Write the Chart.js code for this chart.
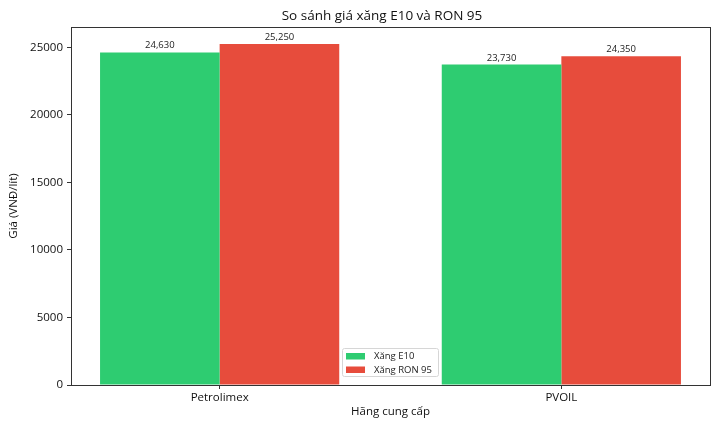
<!DOCTYPE html>
<html>
<head>
<meta charset="utf-8">
<script src="https://cdn.jsdelivr.net/npm/chart.js@4.4.1/dist/chart.umd.min.js"></script>
<style>
  html, body { margin: 0; padding: 0; background: #fff; }
  #wrap { width: 720px; height: 432px; }
</style>
</head>
<body>
<div id="wrap"><canvas id="c" width="720" height="432"></canvas></div>
<script>
const categories = ['Petrolimex', 'PVOIL'];
const e10Values = [24630, 23730];
const ron95Values = [25250, 24350];
const seriesNames = ['Xăng E10', 'Xăng RON 95'];
const yTickValues = [0, 5000, 10000, 15000, 20000, 25000];
const chartTitle = 'So sánh giá xăng E10 và RON 95';
const xAxisTitle = 'Hãng cung cấp';
const yAxisTitle = 'Giá (VNĐ/lít)';

const FONT = '"Open Sans", Lato, sans-serif';
const GREEN = '#2ecc71';
const RED = '#e74c3c';
const TEXT = '#111';

const toPoints = vals => vals.map((v, i) => ({ x: i, y: v }));

const decor = {
  id: 'decor',
  afterDatasetsDraw(chart) {
    const ctx = chart.ctx;
    const a = chart.chartArea;
    ctx.save();
    // data labels
    ctx.font = '9.5px ' + FONT;
    ctx.fillStyle = '#222';
    ctx.textAlign = 'center';
    ctx.textBaseline = 'bottom';
    chart.data.datasets.forEach((ds, di) => {
      chart.getDatasetMeta(di).data.forEach((bar, i) => {
        ctx.fillText(ds.data[i].y.toLocaleString('en-US'), bar.x, bar.y - 2);
      });
    });
    // spines
    ctx.strokeStyle = '#333';
    ctx.lineWidth = 1;
    ctx.strokeRect(Math.round(a.left) + 0.5, Math.round(a.top) + 0.5, Math.round(a.right - a.left), Math.round(a.bottom - a.top));
    // legend
    const lx = 342, ly = 348, lw = 96, lh = 28;
    ctx.fillStyle = 'rgba(255,255,255,0.85)';
    ctx.strokeStyle = '#d6d6d6';
    ctx.beginPath();
    ctx.roundRect(lx + 0.5, ly + 0.5, lw, lh, 2);
    ctx.fill();
    ctx.stroke();
    chart.data.datasets.forEach((ds, di) => {
      const cy = ly + 8 + di * 13.5;
      ctx.fillStyle = ds.backgroundColor;
      ctx.fillRect(lx + 4, cy - 3, 19, 6.5);
      ctx.fillStyle = '#222';
      ctx.textAlign = 'left';
      ctx.textBaseline = 'middle';
      ctx.font = '9.5px ' + FONT;
      ctx.fillText(ds.label, lx + 32, cy + 0.5);
    });
    // title
    ctx.fillStyle = TEXT;
    ctx.font = '13.5px ' + FONT;
    ctx.textAlign = 'center';
    ctx.textBaseline = 'middle';
    ctx.fillText(chartTitle, 382, 16);
    // x axis title
    ctx.font = '11.5px ' + FONT;
    ctx.fillText(xAxisTitle, (a.left + a.right) / 2, 412);
    // y axis title
    ctx.translate(14, (a.top + a.bottom) / 2);
    ctx.rotate(-Math.PI / 2);
    ctx.fillText(yAxisTitle, 0, 0);
    ctx.restore();
  }
};

new Chart(document.getElementById('c'), {
  type: 'bar',
  data: {
    datasets: [
      { label: seriesNames[0], data: toPoints(e10Values), backgroundColor: GREEN, borderWidth: 0 },
      { label: seriesNames[1], data: toPoints(ron95Values), backgroundColor: RED, borderWidth: 0 }
    ]
  },
  options: {
    responsive: false,
    animation: false,
    devicePixelRatio: 1,
    layout: { padding: { top: 27, right: 10, left: 0, bottom: 0 } },
    categoryPercentage: 0.7,
    barPercentage: 1.0,
    plugins: { legend: { display: false }, title: { display: false }, tooltip: { enabled: false } },
    scales: {
      x: {
        type: 'linear',
        offset: false,
        min: -0.435,
        max: 1.435,
        afterBuildTicks: s => { s.ticks = categories.map((c, i) => ({ value: i })); },
        afterFit: s => { s.height = 47; },
        ticks: {
          callback: v => categories[v],
          font: { family: FONT, size: 11.5 },
          color: TEXT,
          padding: 2,
          maxRotation: 0
        },
        grid: { offset: false, drawOnChartArea: false, drawTicks: true, tickLength: 4, tickColor: '#333' },
        border: { display: true, color: '#333' }
      },
      y: {
        min: 0,
        max: 26512.5,
        afterBuildTicks: s => { s.ticks = yTickValues.map(v => ({ value: v })); },
        afterFit: s => { s.width = 71; },
        ticks: {
          callback: v => String(v),
          font: { family: FONT, size: 11.5 },
          color: TEXT,
          padding: 4
        },
        grid: { drawOnChartArea: false, drawTicks: true, tickLength: 4, tickColor: '#333' },
        border: { display: true, color: '#333' }
      }
    }
  },
  plugins: [decor]
});
</script>
</body>
</html>
